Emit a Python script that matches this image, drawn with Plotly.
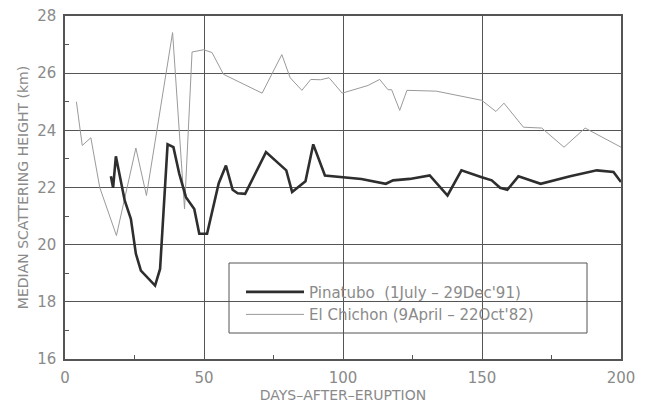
import plotly.graph_objects as go

# El Chichon (9 April - 22 Oct '82)
ec_days = [4.1, 6.2, 9.3, 12.5, 18.5, 25.5, 29.3, 38.7, 43.0, 45.7, 49.9, 52.9, 57.0, 70.9, 78.0, 81.0,
           85.2, 88.4, 91.9, 95.0, 99.7, 109.0, 113.2, 116.2, 117.5, 120.4, 123.0, 133.6, 149.9, 155.0,
           157.9, 164.9, 171.5, 179.5, 187.1, 189.5, 200.0]
ec_km = [25.0, 23.47, 23.74, 22.0, 20.32, 23.38, 21.72, 27.42, 21.25, 26.74, 26.82, 26.72, 25.96, 25.30,
         26.65, 25.84, 25.40, 25.78, 25.77, 25.84, 25.30, 25.57, 25.78, 25.42, 25.42, 24.70, 25.40, 25.37,
         25.05, 24.66, 24.95, 24.11, 24.08, 23.41, 24.08, 23.96, 23.41]

# Pinatubo (1 July - 29 Dec '91)
p_days = [16.5, 17.3, 18.3, 21.5, 23.7, 25.5, 27.3, 32.4, 34.2, 36.9, 39.0, 41.1, 43.5, 46.5, 48.3, 51.1,
          55.3, 57.9, 60.3, 62.1, 64.8, 72.3, 79.6, 81.7, 86.5, 89.3, 93.5, 99.8, 106.6, 115.4, 118.0,
          124.0, 131.2, 137.6, 142.6, 149.9, 153.5, 156.5, 159.1, 163.1, 171.1, 181.7, 191.3, 197.3, 200.0]
p_km = [22.39, 21.99, 23.09, 21.54, 20.9, 19.68, 19.09, 18.57, 19.15, 23.51, 23.41, 22.48, 21.66, 21.25,
        20.38, 20.38, 22.15, 22.77, 21.92, 21.8, 21.78, 23.24, 22.6, 21.84, 22.22, 23.51, 22.42, 22.36,
        22.30, 22.13, 22.25, 22.30, 22.42, 21.72, 22.6, 22.36, 22.25, 21.99, 21.92, 22.39, 22.13, 22.39,
        22.60, 22.54, 22.19]

x_ticks = [0, 50, 100, 150, 200]
y_ticks = [16, 18, 20, 22, 24, 26, 28]

FONT = "DejaVu Sans"
TXT = "#8a8a8a"

fig = go.Figure()
fig.add_trace(go.Scatter(x=ec_days, y=ec_km, mode="lines", name="El Chichon (9April \u2013 22Oct'82)",
                         line=dict(color="#9a9a9a", width=1)))
fig.add_trace(go.Scatter(x=p_days, y=p_km, mode="lines", name="Pinatubo  (1July \u2013 29Dec'91)",
                         line=dict(color="#2e2e2e", width=2.6)))

fig.update_layout(
    width=651, height=406,
    margin=dict(l=65, r=30, t=16, b=47),
    paper_bgcolor="white", plot_bgcolor="white",
    font=dict(family=FONT, color=TXT, size=14),
    showlegend=True,
    legend=dict(x=(241 - 65) / 556, y=0.243, xanchor="left", yanchor="top", traceorder="reversed",
                bgcolor="rgba(0,0,0,0)", borderwidth=0, font=dict(size=15, color=TXT),
                itemwidth=58, tracegroupgap=0),
    xaxis=dict(range=[0, 200], tickvals=x_ticks, showgrid=True, gridcolor="#555", gridwidth=1,
               zeroline=False, showline=True, linecolor="#555", linewidth=1.5, mirror=True,
               automargin=False,
               ticks="", tickfont=dict(size=15, color=TXT), ticklabelstandoff=4,
               minor=dict(ticks="inside", tickvals=[25, 75, 125, 175], ticklen=4, tickcolor="#555",
                          showgrid=False),
               title=dict(text="DAYS\u2013AFTER\u2013ERUPTION", font=dict(size=14, color=TXT), standoff=3)),
    yaxis=dict(range=[16, 28], tickvals=y_ticks, showgrid=True, gridcolor="#555", gridwidth=1,
               zeroline=False, showline=True, linecolor="#555", linewidth=1.5, mirror=True,
               automargin=False,
               ticks="", tickfont=dict(size=15, color=TXT), ticklabelstandoff=4,
               minor=dict(ticks="inside", tickvals=[17, 19, 21, 23, 25, 27], ticklen=4, tickcolor="#555",
                          showgrid=False),
               title=dict(text="MEDIAN SCATTERING HEIGHT (km)", font=dict(size=14, color=TXT), standoff=5)),
)

# legend frame
fig.add_shape(type="rect", xref="paper", yref="paper",
              x0=(229 - 65) / 556, x1=(587 - 65) / 556, y0=(359 - 333) / 343, y1=(359 - 263) / 343,
              line=dict(color="#555", width=1), fillcolor="rgba(0,0,0,0)", layer="above")

fig.write_html("out.html")
